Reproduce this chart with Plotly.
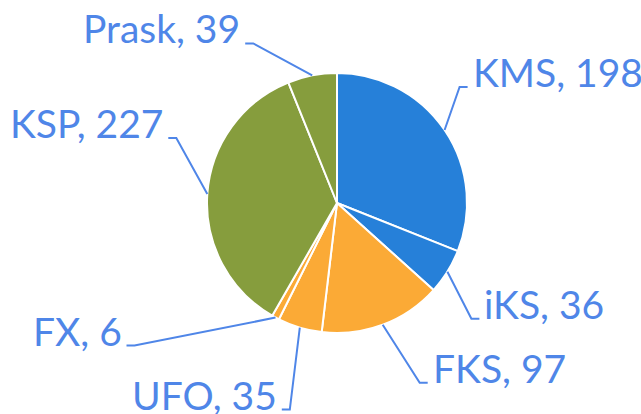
import math
import plotly.graph_objects as go

# ---- data ----
labels = ["KMS", "iKS", "FKS", "UFO", "FX", "KSP", "Prask"]
values = [198, 36, 97, 35, 6, 227, 39]

# ---- style / layout ----
W, H = 641, 414
CX, CY, R = 337, 203, 130
colors = ["#2680d9", "#2680d9", "#fbaa36", "#fbaa36", "#fbaa36", "#869d3d", "#869d3d"]
TXT = "#4f86e8"
FONT = "Lato"
FS = 39
# elbow offsets of each callout line relative to the slice edge point (px)
elbow_off = [(15, -43), (24, 47), (37, 58), (-10, 82), (-141, 28), (-31, -56), (-59, -32)]
SEG = 8
GAP = 3
BASE_DY = 10

fig = go.Figure()
fig.add_trace(go.Pie(
    labels=labels, values=values, sort=False, direction="clockwise", rotation=0,
    marker=dict(colors=colors, line=dict(color="white", width=2)),
    textinfo="none", hoverinfo="label+value", showlegend=False,
    domain=dict(x=[(CX - R) / W, (CX + R) / W], y=[(H - CY - R) / H, (H - CY + R) / H]),
))
# invisible pixel axes for callout lines
fig.add_trace(go.Scatter(x=[0, W], y=[0, H], mode="markers", marker=dict(opacity=0),
                         hoverinfo="skip", showlegend=False))

total = sum(values)
cum = 0
shapes, annos = [], []
for lab, v, (ox, oy) in zip(labels, values, elbow_off):
    mid = (cum + v / 2) / total * 2 * math.pi
    cum += v
    sx = CX + R * math.sin(mid)
    sy = CY - R * math.cos(mid)
    ex, ey = sx + ox, sy + oy
    side = 1 if ox > 0 else -1
    hx = ex + side * SEG
    path = f"M {sx:.1f},{sy:.1f} L {ex:.1f},{ey:.1f} L {hx:.1f},{ey:.1f}"
    shapes.append(dict(type="path", path=path, xref="x", yref="y",
                       line=dict(color=TXT, width=2)))
    tx = hx + side * GAP
    ty = ey + BASE_DY
    annos.append(dict(x=tx / W, y=1 - ty / H, xref="paper", yref="paper",
                      text=f"{lab}, {v}", showarrow=False,
                      xanchor="left" if side > 0 else "right", yanchor="bottom",
                      font=dict(family=FONT, size=FS, color=TXT)))

fig.update_layout(
    width=W, height=H, margin=dict(l=0, r=0, t=0, b=0),
    paper_bgcolor="white", plot_bgcolor="rgba(0,0,0,0)",
    xaxis=dict(range=[0, W], visible=False, fixedrange=True),
    yaxis=dict(range=[H, 0], visible=False, fixedrange=True),
    shapes=shapes, annotations=annos,
)
fig.write_html("out.html", config={"displayModeBar": False},
               post_script="document.body.style.margin='0';document.body.style.overflow='hidden';")
